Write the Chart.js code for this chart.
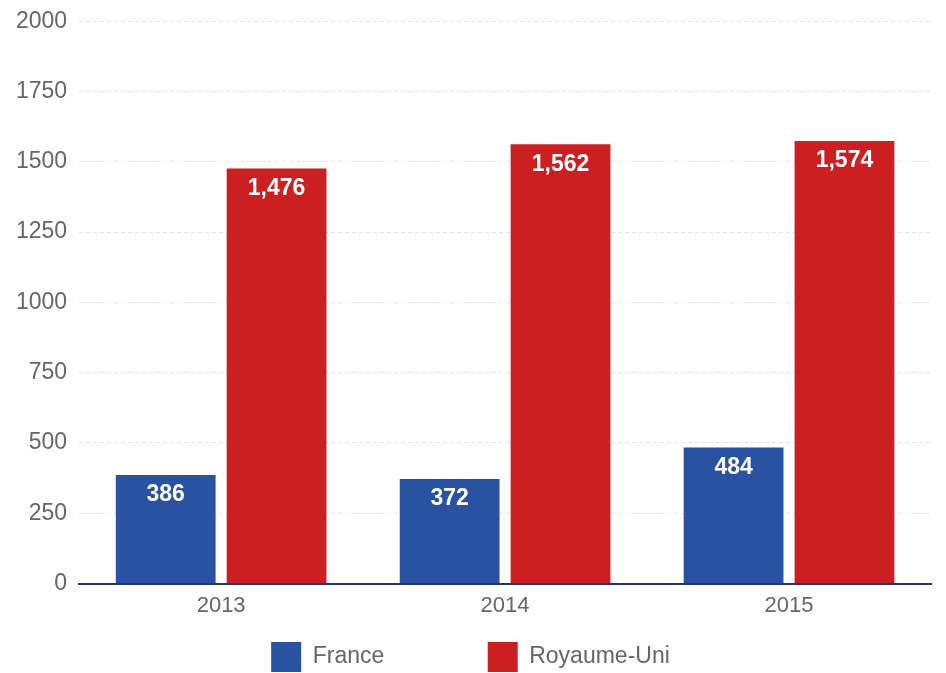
<!DOCTYPE html>
<html>
<head>
<meta charset="utf-8">
<script src="https://cdn.jsdelivr.net/npm/chart.js@4/dist/chart.umd.min.js"></script>
<style>
    html, body { margin: 0; padding: 0; background: #fff; }
    #wrap { width: 946px; height: 673px; position: relative; }
</style>
</head>
<body>
<div id="wrap"><canvas id="chart"></canvas></div>
<script>
/* =====================================================
   DATA
===================================================== */

const years = ["2013", "2014", "2015"];
const france = [386, 372, 484];
const royaumeUni = [1476, 1562, 1574];
const yTicks = [0, 250, 500, 750, 1000, 1250, 1500, 1750, 2000];

/* =====================================================
   STYLE
===================================================== */

const FONT = "'Helvetica Neue', 'Liberation Sans', Arial, sans-serif";
const BLUE = "#2952a3";
const RED = "#cc1f22";

/* value labels inside the top of each bar */
const barLabels = {
    id: "barLabels",
    afterDatasetsDraw(chart) {
        const ctx = chart.ctx;
        ctx.save();
        ctx.fillStyle = "#ffffff";
        ctx.font = "bold 23px " + FONT;
        ctx.textAlign = "center";
        ctx.textBaseline = "middle";
        chart.data.datasets.forEach((ds, i) => {
            chart.getDatasetMeta(i).data.forEach((bar, j) => {
                ctx.fillText(ds.data[j].toLocaleString("en-US"), bar.x, bar.y + 20);
            });
        });
        ctx.restore();
    }
};

/* nudge the legend row a few px right so it sits where the reference has it */
const legendNudge = {
    id: "legendNudge",
    afterLayout(chart) {
        if (chart.legend) {
            chart.legend.left += 3;
            chart.legend.right += 3;
        }
    }
};

new Chart(document.getElementById("chart"), {
    type: "bar",
    data: {
        labels: years,
        datasets: [
            // trailing spaces widen the first legend item to match the reference spacing
            { label: "France" + " ".repeat(14), data: france, backgroundColor: BLUE },
            { label: "Royaume-Uni", data: royaumeUni, backgroundColor: RED }
        ]
    },
    options: {
        responsive: true,
        maintainAspectRatio: false,
        animation: false,
        categoryPercentage: 0.781,
        barPercentage: 0.9,
        layout: { padding: { top: 0, right: 15, left: 4, bottom: -9 } },
        plugins: {
            legend: {
                position: "bottom",
                labels: {
                    boxWidth: 30,
                    boxHeight: 30,
                    padding: 14,
                    color: "#666",
                    font: { family: FONT, size: 23 }
                }
            },
            tooltip: { enabled: false }
        },
        scales: {
            x: {
                grid: { display: false, drawTicks: false },
                border: { display: true, color: "#27336e", width: 2 },
                ticks: { color: "#666", padding: 9, font: { family: FONT, size: 22 } }
            },
            y: {
                min: 0,
                max: 2000,
                afterBuildTicks: axis => { axis.ticks = yTicks.map(v => ({ value: v })); },
                grid: { color: "#e3e3f2", lineWidth: 1, drawTicks: false },
                border: { display: false, dash: [4, 3] },
                ticks: {
                    color: "#666",
                    padding: 12,
                    font: { family: FONT, size: 23, lineHeight: 0.8 },
                    callback: v => String(v)
                }
            }
        }
    },
    plugins: [barLabels, legendNudge]
});
</script>
</body>
</html>
